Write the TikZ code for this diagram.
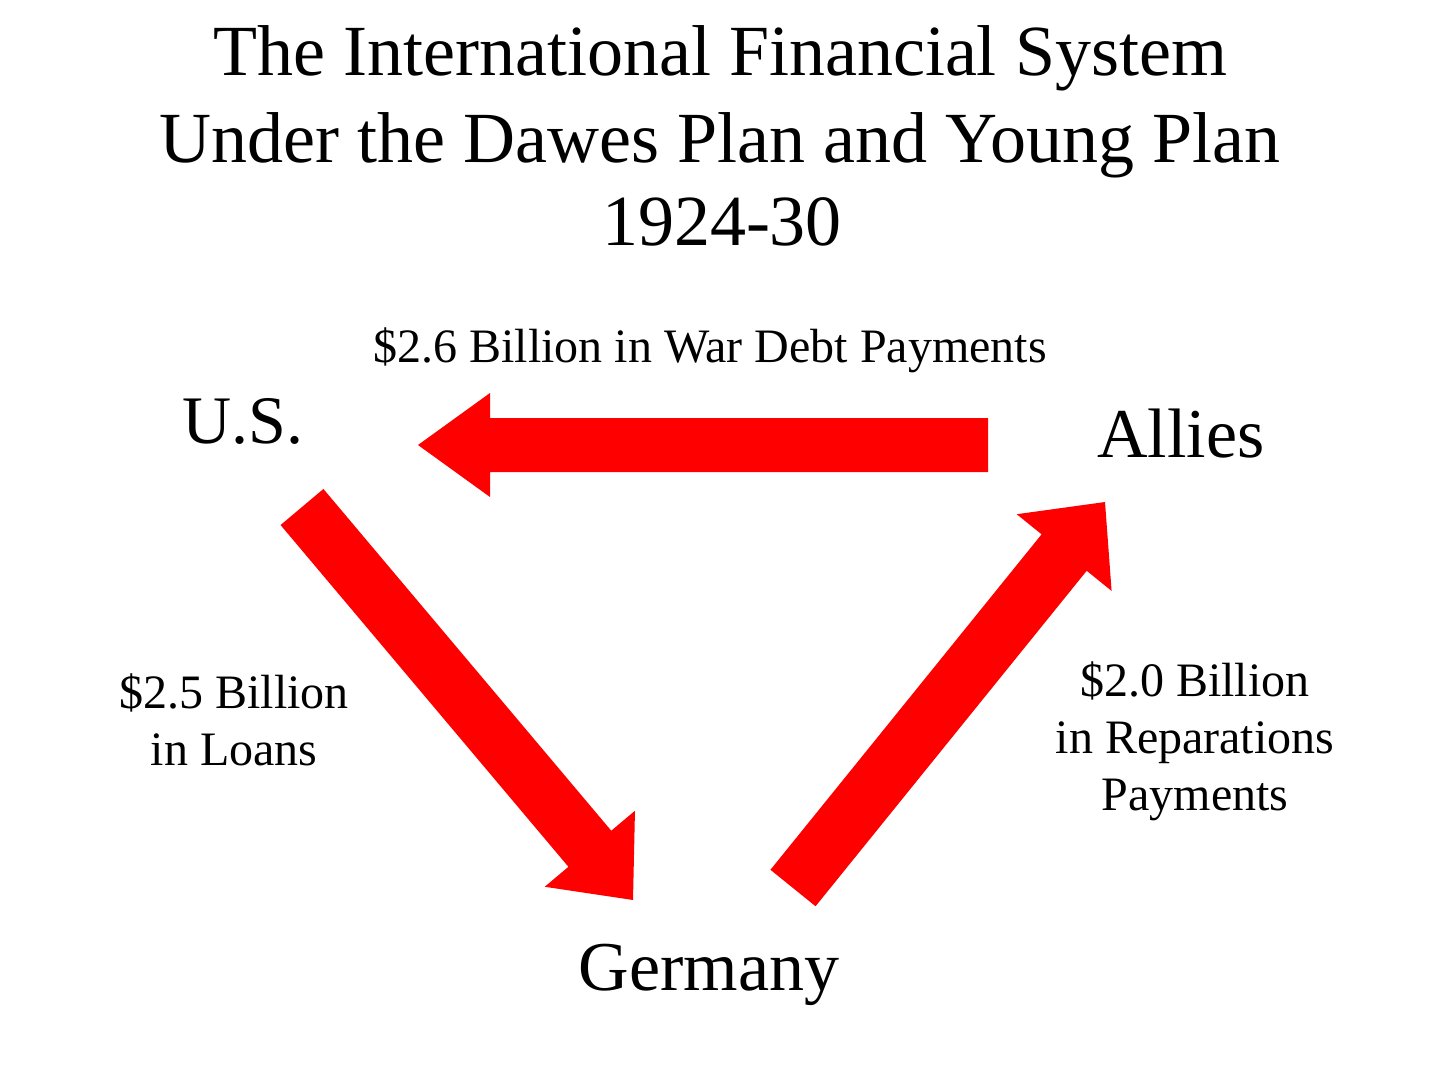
\documentclass[tikz,border=0pt]{standalone}
\usepackage{fontspec}
\setmainfont{Liberation Serif}
\usetikzlibrary{calc}
\definecolor{arrowred}{RGB}{255,0,0}
\newcommand{\fatarrow}[5]{%
  \coordinate (#1-b) at ($(#2)!#4!(#1)$);
  \fill[arrowred] ($(#1)!#3!90:(#2)$) -- ($(#1-b)!#3!90:(#2)$) -- ($(#1-b)!#5!90:(#2)$) -- (#2)
    -- ($(#1-b)!#5!-90:(#2)$) -- ($(#1-b)!#3!-90:(#2)$) -- ($(#1)!#3!-90:(#2)$) -- cycle;
}
\begin{document}
\begin{tikzpicture}[x=0.5pt,y=-0.5pt,
  titletext/.style={anchor=base,inner sep=0pt,font=\fontsize{36}{43}\selectfont},
  placetext/.style={anchor=base,inner sep=0pt,font=\fontsize{35}{42}\selectfont},
  labeltext/.style={anchor=base,inner sep=0pt,align=center,font=\fontsize{24}{28.5}\selectfont}]
\useasboundingbox (0,0) rectangle (1440,1076);
\fill[white] (0,0) rectangle (1440,1076);
% title
\node[titletext] (title1) at (720,75) {The International Financial System};
\node[titletext] (title2) at (720,162) {Under the Dawes Plan and Young Plan};
\node[titletext] (title3) at (722,245) {1924-30};
% places
\node[placetext,font=\fontsize{34}{40}\selectfont] (US) at (243,443) {U.S.};
\node[placetext] (Allies) at (1181,457) {Allies};
\node[placetext] (Germany) at (709,990) {Germany};
% arrow end points
\coordinate (debtS) at (988,445);
\coordinate (debtE) at (418,445);
\coordinate (loanS) at (302,507);
\coordinate (loanE) at (633,900);
\coordinate (repS) at (793,888);
\coordinate (repE) at (1105,502);
\fatarrow{debtS}{debtE}{13.5pt}{36pt}{26pt}
\fatarrow{loanS}{loanE}{14pt}{33.5pt}{29.5pt}
\fatarrow{repS}{repE}{14.5pt}{32.5pt}{30.5pt}
% labels
\node[labeltext] (debtlabel) at (710,362) {\$2.6 Billion in War Debt Payments};
\node[labeltext,anchor=north] (loanlabel) at (234,673) {\$2.5 Billion\\in Loans};
\node[labeltext,anchor=north] (replabel) at (1195,661) {\$2.0 Billion\\in Reparations\\Payments};
\end{tikzpicture}
\end{document}
